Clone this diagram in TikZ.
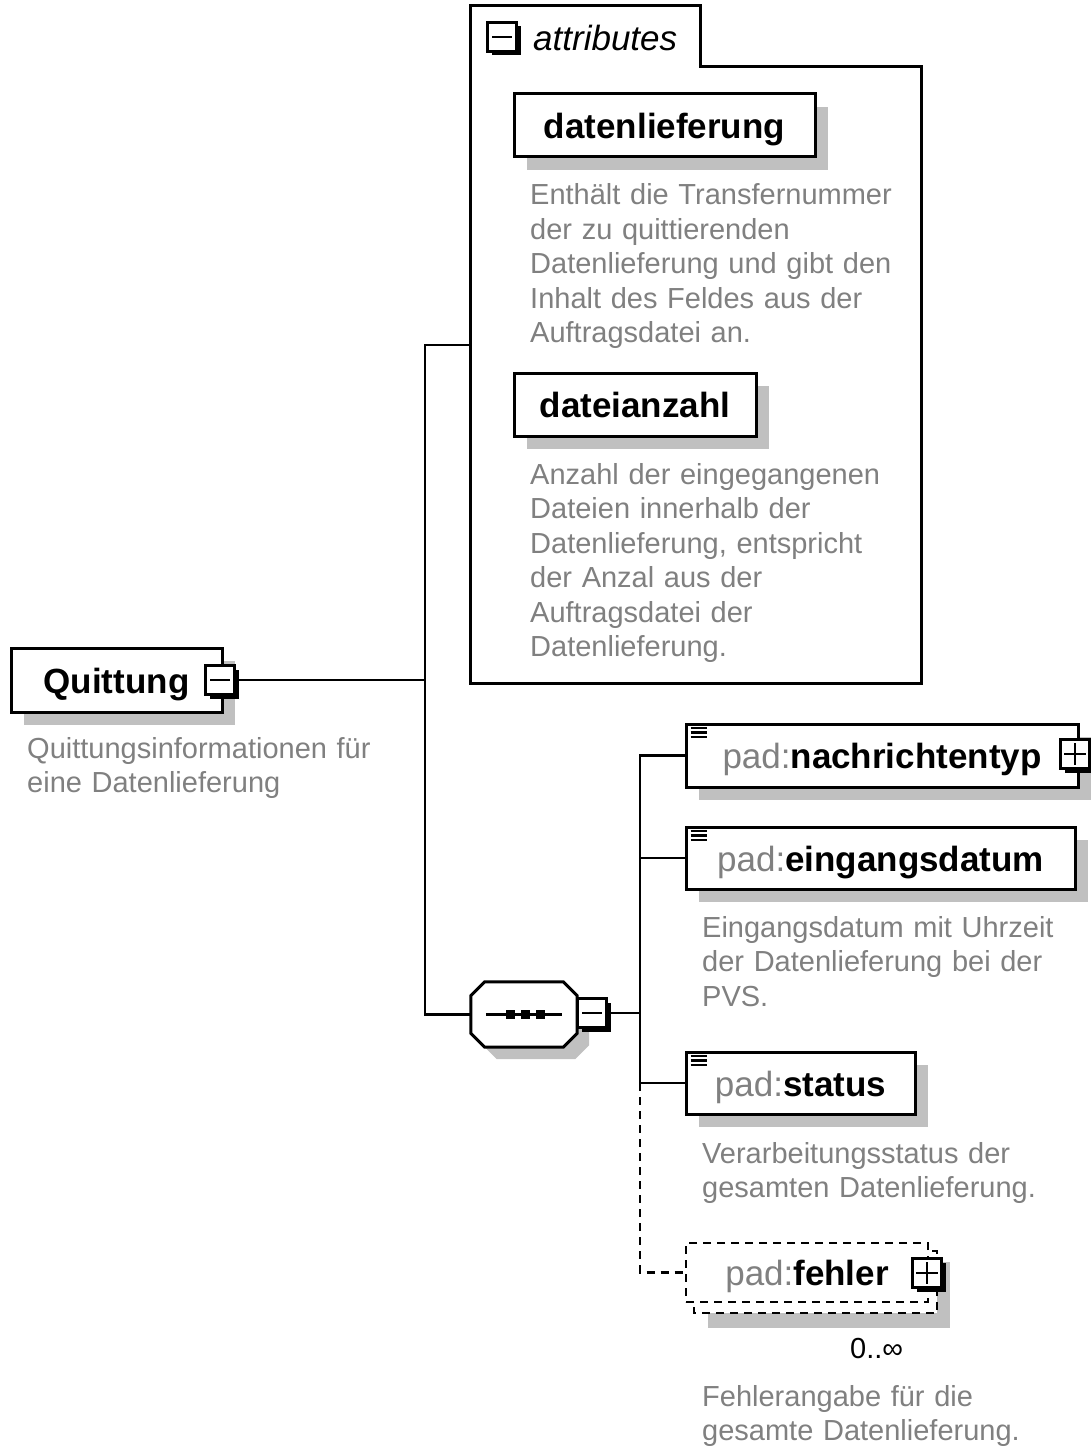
\documentclass[tikz,border=0pt]{standalone}
\usepackage{fontspec}
\setmainfont{Liberation Sans}
\usetikzlibrary{calc,shadows}
\definecolor{txtgray}{RGB}{128,128,128}
\definecolor{shadowgray}{RGB}{192,192,192}
\newcommand{\padp}{{\mdseries\color{txtgray}pad:}}
\begin{document}
\begin{tikzpicture}[x=1pt,y=-1pt,
  elbox/.style={draw=black, line width=3pt, fill=white, rectangle, inner sep=0pt,
    text height=26pt, text depth=0pt,
    font=\fontsize{35}{40}\selectfont\bfseries,
    drop shadow={shadow xshift=13pt, shadow yshift=-13pt, fill=shadowgray, opacity=1}},
  pmbox/.style={draw=black, line width=2.2pt, fill=white, rectangle, inner sep=0pt,
    minimum width=29pt, minimum height=29pt,
    drop shadow={shadow xshift=4pt, shadow yshift=-4pt, fill=black, opacity=1}},
  desc/.style={anchor=base west, align=left, text width=430pt, inner sep=0pt,
    text=txtgray, font=\fontsize{29}{34.5}\selectfont},
  conn/.style={line width=2.6pt},
  dashline/.style={line width=2.6pt, dash pattern=on 8pt off 6pt},
]
\useasboundingbox (0,0) rectangle (1090,1447);
\fill[white] (0,0) rectangle (1090,1447);

% ---------- Quittung ----------
\node[elbox, minimum width=211, minimum height=64] (q) at (116.5,680) {Quittung\hspace{12pt}};
\node[pmbox] (qm) at (220,680) {};
\draw[line width=2.2pt] ($(qm.west)+(6,0)$) -- ($(qm.east)+(-6,0)$);
\node[desc] (qd) at (27,758) {Quittungsinformationen für\\eine Datenlieferung};

% ---------- attributes group ----------
\draw[line width=3pt, fill=white] (470,683) -- (470,6) -- (700,6) -- (700,67) -- (921,67) -- (921,683) -- cycle;
\node[pmbox] (am) at (502,37) {};
\draw[line width=2.2pt] ($(am.west)+(6,0)$) -- ($(am.east)+(-6,0)$);
\node[anchor=west, inner sep=0pt, font=\fontsize{35}{40}\selectfont\itshape] (at) at (533,38) {attributes};

\node[elbox, minimum width=301, minimum height=63] (dl) at (664.5,125.5) {datenlieferung};
\node[desc] (dld) at (530,205) {Enthält die Transfernummer\\der zu quittierenden\\Datenlieferung und gibt den\\Inhalt des Feldes aus der\\Auftragsdatei an.};

\node[elbox, minimum width=242, minimum height=63] (da) at (635,404.5) {dateianzahl};
\node[desc] (dad) at (530,484) {Anzahl der eingegangenen\\Dateien innerhalb der\\Datenlieferung, entspricht\\der Anzal aus der\\Auftragsdatei der\\Datenlieferung.};

% ---------- sequence compositor ----------
\node[rectangle, inner sep=0pt, minimum width=106, minimum height=65] (seq) at (524,1014.5) {};
\fill[shadowgray] ($(seq.north west)+(26,12)$) -- ($(seq.north east)+(-2,12)$) -- ($(seq.north east)+(12,26)$)
  -- ($(seq.south east)+(12,-2)$) -- ($(seq.south east)+(-2,12)$) -- ($(seq.south west)+(26,12)$)
  -- ($(seq.south west)+(12,-2)$) -- ($(seq.north west)+(12,26)$) -- cycle;
\draw[line width=3pt, fill=white] ($(seq.north west)+(14,0)$) -- ($(seq.north east)+(-14,0)$) -- ($(seq.north east)+(0,14)$)
  -- ($(seq.south east)+(0,-14)$) -- ($(seq.south east)+(-14,0)$) -- ($(seq.south west)+(14,0)$)
  -- ($(seq.south west)+(0,-14)$) -- ($(seq.north west)+(0,14)$) -- cycle;
\draw[line width=2.4pt] ($(seq.west)+(15,0)$) -- ($(seq.east)+(-15,0)$);
\foreach \cx in {510,525,540} {\fill (\cx-4.5,1010) rectangle (\cx+4.5,1019);}
\node[pmbox] (seqm) at (592,1013) {};
\draw[line width=2.2pt] ($(seqm.west)+(6,0)$) -- ($(seqm.east)+(-6,0)$);

% ---------- children ----------
\node[elbox, minimum width=392, minimum height=63] (nt) at (882,755.5) {\padp nachrichtentyp};
\node[pmbox] (ntp) at (1075,754) {};
\draw[line width=2.2pt] ($(ntp.west)+(5,0)$) -- ($(ntp.east)+(-5,0)$) ($(ntp.north)+(0,5)$) -- ($(ntp.south)+(0,-5)$);

\node[elbox, minimum width=389, minimum height=62] (ed) at (880.5,858) {\padp eingangsdatum};
\node[desc] (edd) at (702,937) {Eingangsdatum mit Uhrzeit\\der Datenlieferung bei der\\PVS.};

\node[elbox, minimum width=229, minimum height=62] (st) at (800.5,1083) {\padp status};
\node[desc] (std) at (702,1163) {Verarbeitungsstatus der\\gesamten Datenlieferung.};

% "≡" icons
\foreach \n in {nt,ed,st} {
  \foreach \dy in {5.5,10,14.5} {
    \draw[line width=2.4pt] ($(\n.north west)+(6,\dy)$) -- ($(\n.north west)+(22,\dy)$);
  }
}

% fehler (repeated, optional)
\fill[shadowgray] (708,1262) rectangle (950,1328);
\draw[dashline, fill=white] (694,1251) rectangle (937,1313);
\node[rectangle, draw=black, dashline, fill=white, inner sep=0pt, minimum width=242, minimum height=59,
  text height=26pt, text depth=0pt, font=\fontsize{35}{40}\selectfont\bfseries] (fe) at (807,1272.5) {\padp fehler\hspace{30pt}};
\node[pmbox] (fep) at (927,1273) {};
\draw[line width=2.2pt] ($(fep.west)+(5,0)$) -- ($(fep.east)+(-5,0)$) ($(fep.north)+(0,5)$) -- ($(fep.south)+(0,-5)$);
\node[anchor=base west, inner sep=0pt, font=\fontsize{29}{34.5}\selectfont] (card) at (850,1358) {0..∞};
\node[desc] (fed) at (702,1406) {Fehlerangabe für die\\gesamte Datenlieferung.};

% ---------- connectors ----------
\coordinate (j1) at (425,680);
\coordinate (aL) at (470,345);
\coordinate (v1) at (640,755);
\coordinate (v4) at (640,1083);
\draw[conn] (qm.east) -- (j1);
\draw[conn] (aL) -| (j1) |- (seq.west);
\draw[conn] (seqm.east) -- (seqm.east -| v1);
\draw[conn] (nt.west) -| (v4);
\draw[conn] (ed.west) -- (ed.west -| v1);
\draw[conn] (st.west) -- (st.west -| v1);
\draw[dashline] (v4) |- (fe.west);
\end{tikzpicture}
\end{document}
